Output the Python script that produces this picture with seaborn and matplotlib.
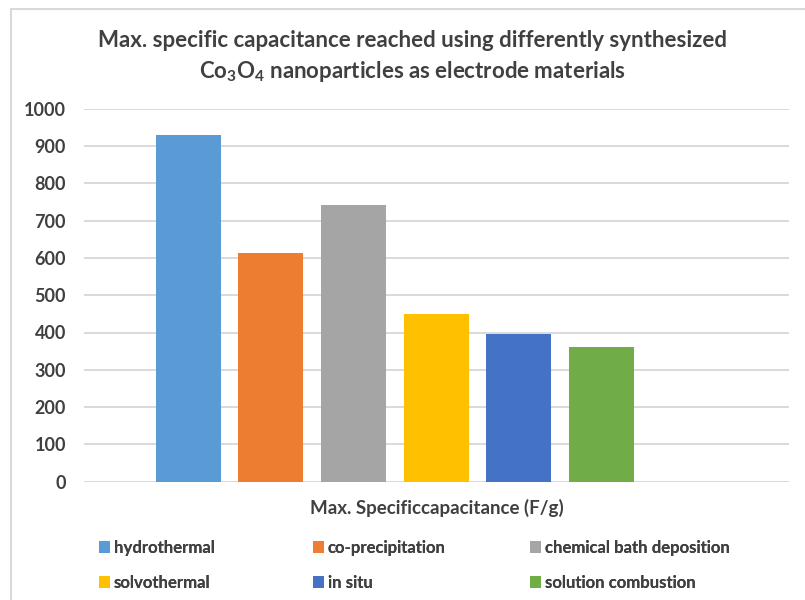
import matplotlib
matplotlib.use("Agg")
import matplotlib.pyplot as plt
from matplotlib.lines import Line2D
import seaborn as sns
import pandas as pd

# ---- data ----
methods = ["hydrothermal", "co-precipitation", "chemical bath deposition",
           "solvothermal", "in situ", "solution combustion"]
capacitance = [929, 613, 742, 450, 396, 361]
colors = ["#5B9BD5", "#ED7D31", "#A5A5A5", "#FFC000", "#4472C4", "#70AD47"]
y_ticks = [0, 100, 200, 300, 400, 500, 600, 700, 800, 900, 1000]
x_label = "Max. Specificcapacitance (F/g)"
title = ("Max. specific capacitance reached using differently synthesized\n"
         "Co$_{3}$O$_{4}$ nanoparticles as electrode materials")

sns.set_theme(style="white")
plt.rcParams["font.family"] = ["Lato", "DejaVu Sans"]
plt.rcParams["mathtext.fontset"] = "custom"
plt.rcParams["mathtext.rm"] = "Lato:bold"
plt.rcParams["mathtext.it"] = "Lato:bold"
plt.rcParams["mathtext.bf"] = "Lato:bold"

TXT = "#404040"
W, H = 805, 600
fig = plt.figure(figsize=(W / 100, H / 100), dpi=100)
fig.patch.set_facecolor("white")

left, right, top, bottom = 84, 789, 108.7, 481.7
ax = fig.add_axes([left / W, 1 - bottom / H, (right - left) / W, (bottom - top) / H])

df = pd.DataFrame({"method": methods, "value": capacitance})
palette = dict(zip(methods, colors))
sns.barplot(data=df, x="method", y="value", hue="method", order=methods,
            hue_order=methods, palette=palette, width=0.786, saturation=1,
            legend=True, ax=ax, edgecolor="none")

ax.set_xlim(-1.2606, 7.268)
ax.set_ylim(0, 1000)
ax.set_yticks(y_ticks)
ax.set_yticklabels([str(v) for v in y_ticks], fontweight="bold", color=TXT, fontsize=13)
ax.tick_params(axis="y", length=0, pad=13)
ax.set_xticks([])
ax.set_ylabel("")
ax.set_xlabel(x_label, fontweight="bold", color=TXT, fontsize=13.5, va="center")
ax.xaxis.set_label_coords((437 - left) / (right - left), -(508 - bottom) / (bottom - top))
ax.yaxis.grid(True, color="#D9D9D9", linewidth=1.4)
ax.set_axisbelow(True)
for s in ax.spines.values():
    s.set_visible(False)

# legends: three columns placed explicitly
handles, labels = ax.get_legend_handles_labels()
ax.get_legend().remove()
hmap = dict(zip(labels, handles))
cols = [(["hydrothermal", "solvothermal"], 99),
        (["co-precipitation", "in situ"], 313),
        (["chemical bath deposition", "solution combustion"], 530)]
for names, xpx in cols:
    leg = fig.legend([hmap[n] for n in names], names, loc="upper left",
                     bbox_to_anchor=(xpx / W, 1 - 540 / H), frameon=False,
                     handlelength=0.68, handleheight=0.68, handletextpad=0.2,
                     labelspacing=1.12, borderpad=0, borderaxespad=0,
                     prop={"weight": "bold", "size": 12.1})
    for t in leg.get_texts():
        t.set_color(TXT)
    fig.add_artist(leg)

fig.text(412 / W, 1 - 57 / H, title, ha="center", va="center",
         fontsize=16, fontweight="bold", color=TXT, linespacing=1.4)

# chart border (top and left visible)
fig.add_artist(Line2D([11 / W, 11 / W], [0, 1 - 9 / H], color="#D9D9D9", lw=1.5))
fig.add_artist(Line2D([11 / W, 1], [1 - 9 / H, 1 - 9 / H], color="#D9D9D9", lw=1.5))

fig.savefig("out.png", dpi=100, facecolor="white")
